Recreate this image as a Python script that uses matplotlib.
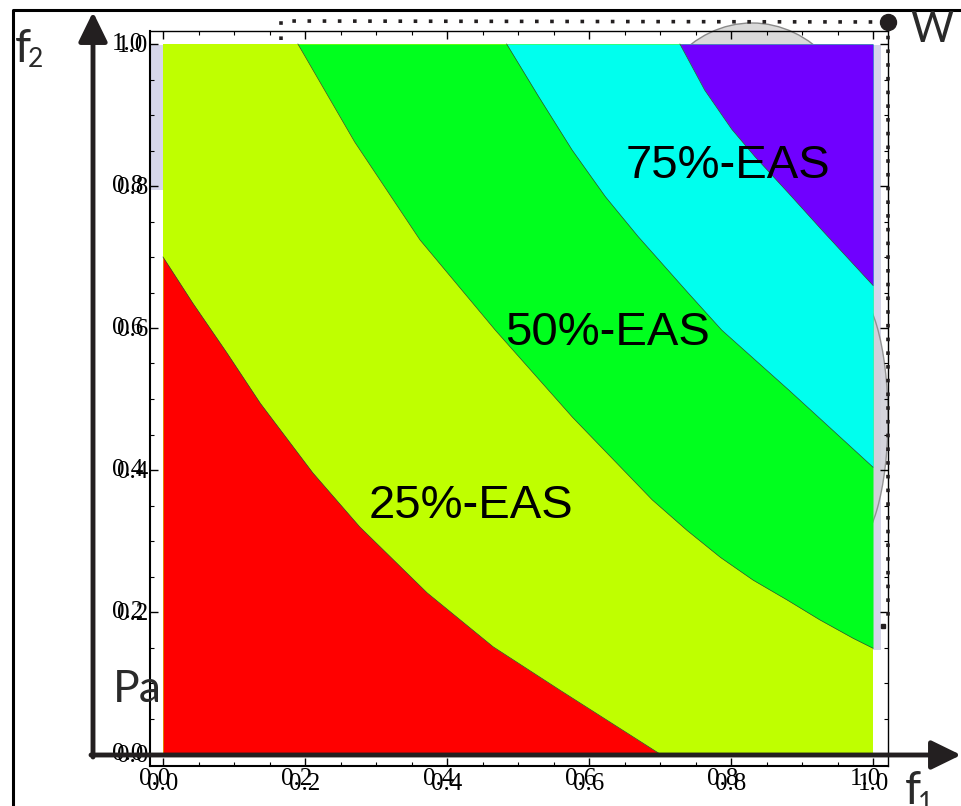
import matplotlib
matplotlib.use("Agg")
import matplotlib.pyplot as plt
from matplotlib.patches import Ellipse, Rectangle
from matplotlib.ticker import MultipleLocator

# boundary curves of the filled regions (f1 -> f2)
red_x = [0.0, 0.042, 0.090, 0.137, 0.211, 0.277, 0.372, 0.465, 0.559, 0.70]
red_y = [0.70, 0.635, 0.565, 0.494, 0.396, 0.320, 0.227, 0.151, 0.090, 0.0]

green_x = [0.19, 0.27, 0.362, 0.468, 0.577, 0.689, 0.738, 0.785, 0.831, 0.879, 0.925, 0.972, 1.0]
green_y = [1.0, 0.862, 0.724, 0.597, 0.474, 0.358, 0.315, 0.277, 0.245, 0.217, 0.189, 0.163, 0.149]

cyan_x = [0.484, 0.529, 0.576, 0.623, 0.669, 0.740, 0.787, 0.834, 0.881, 0.928, 1.0]
cyan_y = [1.0, 0.926, 0.851, 0.785, 0.729, 0.649, 0.597, 0.555, 0.513, 0.470, 0.404]

purple_x = [0.728, 0.763, 0.801, 0.834, 0.881, 0.928, 1.0]
purple_y = [1.0, 0.935, 0.880, 0.841, 0.790, 0.738, 0.660]

band_labels = ["25%-EAS", "50%-EAS", "75%-EAS"]
band_lx = [0.289, 0.482, 0.651]
band_ly = [0.332, 0.576, 0.811]

ticks = [0.0, 0.2, 0.4, 0.6, 0.8, 1.0]
tick_labels = ["0.0", "0.2", "0.4", "0.6", "0.8", "1.0"]

c_red, c_yel, c_grn, c_cyn, c_pur = "#ff0000", "#bfff00", "#00ff1e", "#00ffee", "#7000ff"
ink = "#231f20"
light = dict(family=["Lato", "DejaVu Sans"], weight="normal", color="#2a2a2a")
tickfont = dict(family=["Liberation Serif", "DejaVu Serif"], size=18)

W, H = 961, 806
fig = plt.figure(figsize=(W / 100, H / 100), dpi=100)

def box(x0, y0, x1, y1):
    return [x0 / W, 1 - y1 / H, (x1 - x0) / W, (y1 - y0) / H]

# background layer (pixel coords)
bg = fig.add_axes([0, 0, 1, 1], zorder=0)
bg.set_xlim(0, W); bg.set_ylim(H, 0); bg.axis("off")
bg.add_patch(Rectangle((150, 45), 13, 145, fc="#d6d6ea", ec="none"))
bg.add_patch(Rectangle((873, 45), 8, 605, fc="#d6d6ea", ec="none"))
bg.add_patch(Ellipse((752, 150), 220, 254, fc="#dadada", ec="#8a8a8a", lw=1))
bg.add_patch(Ellipse((850, 418), 76, 260, fc="#d0d0d8", ec="#8a8a8a", lw=1, alpha=0.9))

# main plot
ax = fig.add_axes(box(150, 31, 888, 766), zorder=1)
ax.patch.set_alpha(0)
ax.set_xlim((150 - 163) / 710, (888 - 163) / 710)
ax.set_ylim((754 - 766) / 710, (754 - 31) / 710)

ax.fill_between([0, 1], 0, 1, color=c_yel, lw=0)
ax.fill_between(red_x, 0, red_y, color=c_red, lw=0)
ax.fill_between(green_x, green_y, 1, color=c_grn, lw=0)
ax.fill_between(cyan_x, cyan_y, 1, color=c_cyn, lw=0)
ax.fill_between(purple_x, purple_y, 1, color=c_pur, lw=0)
for bx, by in [(red_x, red_y), (green_x, green_y), (cyan_x, cyan_y), (purple_x, purple_y)]:
    ax.plot(bx, by, color="#2f4f2f", lw=0.5)

for t, x, y in zip(band_labels, band_lx, band_ly):
    ax.text(x, y, t, fontsize=34, family="Liberation Sans", ha="left", va="baseline")

ax.set_xticks(ticks); ax.set_xticklabels(tick_labels, **tickfont)
ax.set_yticks(ticks); ax.set_yticklabels(tick_labels, **tickfont)
ax.xaxis.set_minor_locator(MultipleLocator(0.05))
ax.yaxis.set_minor_locator(MultipleLocator(0.05))
ax.tick_params(which="both", direction="in", top=True, right=True, color="black")
ax.tick_params(which="major", length=6, width=1)
ax.tick_params(which="minor", length=3, width=0.8)
ax.tick_params(axis="x", pad=5)
ax.tick_params(axis="y", pad=1.5)
for s in ax.spines.values():
    s.set_linewidth(1)
ax.spines["left"].set_linewidth(1.5)
ax.spines["bottom"].set_linewidth(1.5)

# doubled tick labels (second, slightly shifted copy)
for v, lab in zip(ticks, tick_labels):
    ax.annotate(lab, xy=(v, 0), xycoords=ax.get_xaxis_transform(), xytext=(-8, -2),
                textcoords="offset pixels", ha="center", va="top", **tickfont)
    ax.annotate(lab, xy=(0, v), xycoords=ax.get_yaxis_transform(), xytext=(-7, 0),
                textcoords="offset pixels", ha="right", va="center", **tickfont)

# foreground layer: frame, arrows, path, labels
fg = fig.add_axes([0, 0, 1, 1], zorder=3)
fg.set_xlim(0, W); fg.set_ylim(H, 0); fg.axis("off"); fg.patch.set_alpha(0)
fg.plot([13, 13, W + 5], [H + 5, 10, 10], color="black", lw=2.2, clip_on=False)

head = "-|>,head_length=0.45,head_width=0.22"
fg.annotate("", xy=(93, 12), xytext=(93, 757),
            arrowprops=dict(arrowstyle=head, lw=3.5, color=ink, mutation_scale=40, shrinkA=0, shrinkB=0))
fg.annotate("", xy=(961, 755), xytext=(91, 755),
            arrowprops=dict(arrowstyle=head, lw=3.5, color=ink, mutation_scale=40, shrinkA=0, shrinkB=0))

fg.plot([281, 281, 888], [40, 21, 22], color=ink, lw=2.6, dashes=(1, 3.2), dash_capstyle="butt")
fg.plot([888, 888], [22, 625], color=ink, lw=2.6, dashes=(1, 2.8), dash_capstyle="butt")
fg.plot([883], [626], "s", color=ink, ms=2.5)
fg.plot([888], [22], "o", color=ink, ms=11.5)

fg.text(910, 42, "W", fontsize=30, ha="left", va="baseline", **light)
fg.text(15, 62, "f", fontsize=33, ha="left", va="baseline", **light)
fg.text(28, 67, "2", fontsize=19, ha="left", va="baseline", **light)
fg.text(905, 804, "f", fontsize=33, ha="left", va="baseline", **light)
fg.text(918, 811, "1", fontsize=19, ha="left", va="baseline", **light)
fg.text(113, 702, "Pa", fontsize=32, ha="left", va="baseline", **light)

fig.savefig("out.png", dpi=100)
